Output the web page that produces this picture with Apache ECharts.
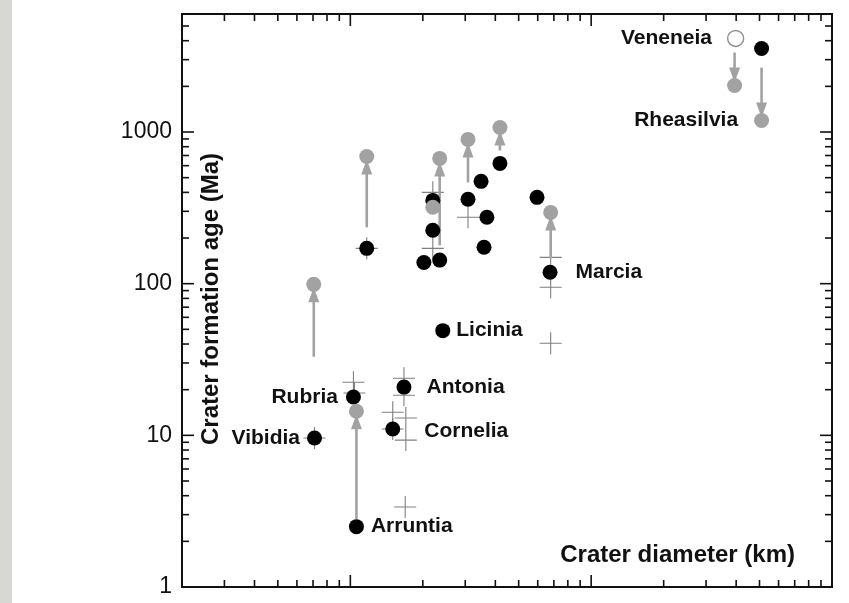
<!DOCTYPE html>
<html>
<head>
<meta charset="utf-8">
<script src="https://cdn.jsdelivr.net/npm/echarts@6/dist/echarts.min.js"></script>
<style>
  html, body { margin: 0; padding: 0; background: #fff; }
  #chart { width: 849px; height: 603px; }
</style>
</head>
<body>
<div id="chart"></div>
<script>
// Crater diameter (km) and formation age (Ma)
const blackDiam = [7.1, 10.3, 10.6, 16.7, 15.0, 24.2, 67.5, 11.7, 20.2, 23.5, 22.0, 22.0, 41.8, 34.9, 30.8, 36.9, 35.9, 59.6, 510];
const blackAge  = [9.6, 17.9, 2.5, 20.8, 11.0, 49, 119, 171, 138, 143, 225, 354, 621, 473, 360, 274, 174, 371, 3550];
const blackName = ['Vibidia', 'Rubria', 'Arruntia', 'Antonia', 'Cornelia', 'Licinia', 'Marcia', '', '', '', '', '', '', '', '', '', '', '', ''];

const grayDiam = [7.05, 11.7, 23.5, 30.8, 41.8, 67.9, 22.0, 10.6, 394, 510];
const grayAge  = [99, 690, 670, 894, 1072, 295, 319, 14.4, 2028, 1192];
const grayName = ['', '', '', '', '', '', '', '', '', 'Rheasilvia'];

const openDiam = [398];
const openAge  = [4140];
const openName = ['Veneneia'];

// age revisions: from -> to
const arrowDiam = [7.05, 11.7, 23.5, 30.8, 41.8, 67.9, 10.6, 394, 510];
const arrowFrom = [33, 235, 179, 465, 756, 147, 2.8, 3340, 2660];
const arrowTo   = [99, 690, 670, 894, 1072, 295, 14.4, 2028, 1192];

// alternative estimates
const crossDiam = [7.1, 10.3, 10.4, 16.7, 16.7, 15.0, 17.0, 17.0, 15.0, 16.9, 67.9, 67.9, 67.9, 30.8, 22.0, 22.0, 11.7];
const crossAge  = [9.6, 22.4, 19.0, 23.8, 18.4, 14.2, 13.0, 9.3, 11.0, 3.37, 149, 94.7, 40.5, 274, 400, 171, 171];

// axis ticks
const yTickLabels = [1, 10, 100, 1000];
const xMajorTicks = [10, 100];
const xMinorTicks = [3, 4, 5, 6, 7, 8, 9, 20, 30, 40, 50, 60, 70, 80, 90, 200, 300, 400, 500, 600, 700, 800, 900];
const yMajorTicks = [10, 100, 1000];
const yMinorTicks = [2, 3, 4, 5, 6, 7, 8, 9, 20, 30, 40, 50, 60, 70, 80, 90, 200, 300, 400, 500, 600, 700, 800, 900, 2000, 3000, 4000, 5000];

const FONT = "'Liberation Sans', Arial, Helvetica, sans-serif";
const INK = '#111111';
const GRAY = '#a2a2a2';

// label placement for named craters
const labelPlace = {
  Vibidia:   { position: 'left',  distance: 7 },
  Rubria:    { position: 'left',  distance: 8 },
  Arruntia:  { position: 'right', distance: 7 },
  Antonia:   { position: 'right', distance: 15 },
  Cornelia:  { position: 'right', distance: 24, offset: [0, 2] },
  Licinia:   { position: 'right', distance: 6 },
  Marcia:    { position: 'right', distance: 18 },
  Rheasilvia:{ position: 'left',  distance: 16 },
  Veneneia:  { position: 'left',  distance: 15 }
};

function points(xs, ys, names) {
  return xs.map((x, i) => {
    const item = { value: [x, ys[i]], name: names ? names[i] : '' };
    const n = names && names[i];
    if (n) {
      const p = labelPlace[n];
      item.label = {
        show: true, formatter: n, position: p.position, distance: p.distance,
        offset: p.offset || [0, 0],
        color: INK, opacity: 1, fontFamily: FONT, fontWeight: 'bold', fontSize: 21
      };
    }
    return item;
  });
}

const chart = echarts.init(document.getElementById('chart'), null, { renderer: 'canvas' });

const option = {
  backgroundColor: '#ffffff',
  animation: false,
  grid: {
    left: 182, top: 14, right: 17, bottom: 16,
    containLabel: false, outerBoundsMode: 'none',
    show: true, borderColor: INK, borderWidth: 2, backgroundColor: 'transparent'
  },
  xAxis: {
    type: 'log', logBase: 10, min: 2, max: 1000,
    axisLine: { show: false }, axisTick: { show: false },
    axisLabel: { show: false }, splitLine: { show: false }
  },
  yAxis: {
    type: 'log', logBase: 10, min: 1, max: 6000,
    axisLine: { show: false }, axisTick: { show: false }, splitLine: { show: false },
    axisLabel: {
      show: true, showMaxLabel: false, margin: 10,
      color: INK, fontFamily: FONT, fontSize: 23,
      formatter: v => (yTickLabels.indexOf(Math.round(v)) >= 0 ? String(Math.round(v)) : '')
    }
  },
  graphic: [
    { type: 'rect', left: 0, top: 0, shape: { width: 12, height: 603 }, style: { fill: '#d7d7d3' }, silent: true },
    {
      type: 'text', x: 211, y: 299, rotation: Math.PI / 2,
      style: { text: 'Crater formation age (Ma)', font: 'bold 24px ' + FONT, fill: INK, align: 'center', verticalAlign: 'middle' }
    },
    {
      type: 'text', x: 795, y: 555,
      style: { text: 'Crater diameter (km)', font: 'bold 24px ' + FONT, fill: INK, align: 'right', verticalAlign: 'middle' }
    }
  ],
  series: [
    // inward ticks on bottom and top
    {
      type: 'custom', clip: false, silent: true, z: 5,
      data: xMajorTicks.map(v => [v, 1, 1]).concat(xMinorTicks.map(v => [v, 1, 0])),
      encode: { x: 0, y: 1 },
      renderItem(params, api) {
        const p = api.coord([api.value(0), api.value(1)]);
        const cs = params.coordSys;
        const len = api.value(2) ? 12 : 7;
        const st = { stroke: INK, lineWidth: 1.6 };
        return { type: 'group', children: [
          { type: 'line', shape: { x1: p[0], y1: cs.y + cs.height, x2: p[0], y2: cs.y + cs.height - len }, style: st },
          { type: 'line', shape: { x1: p[0], y1: cs.y, x2: p[0], y2: cs.y + len }, style: st }
        ] };
      }
    },
    // inward ticks on left and right
    {
      type: 'custom', clip: false, silent: true, z: 5,
      data: yMajorTicks.map(v => [2, v, 1]).concat(yMinorTicks.map(v => [2, v, 0])),
      encode: { x: 0, y: 1 },
      renderItem(params, api) {
        const p = api.coord([api.value(0), api.value(1)]);
        const cs = params.coordSys;
        const len = api.value(2) ? 12 : 7;
        const st = { stroke: INK, lineWidth: 1.6 };
        return { type: 'group', children: [
          { type: 'line', shape: { x1: cs.x, y1: p[1], x2: cs.x + len, y2: p[1] }, style: st },
          { type: 'line', shape: { x1: cs.x + cs.width, y1: p[1], x2: cs.x + cs.width - len, y2: p[1] }, style: st }
        ] };
      }
    },
    // alternative estimates (crosses)
    {
      type: 'scatter', z: 2,
      symbol: 'path://M0,11 L22,11 M11,0 L11,22',
      symbolSize: 22,
      itemStyle: { color: 'transparent', borderColor: '#808080', borderWidth: 1.1, opacity: 1 },
      data: crossDiam.map((x, i) => [x, crossAge[i]])
    },
    // revision arrows
    {
      type: 'custom', z: 3, clip: false,
      data: arrowDiam.map((x, i) => [x, arrowFrom[i], arrowTo[i]]),
      encode: { x: 0, y: [1, 2] },
      renderItem(params, api) {
        const x = api.value(0);
        const p0 = api.coord([x, api.value(1)]);
        const p1 = api.coord([x, api.value(2)]);
        const dir = p1[1] > p0[1] ? 1 : -1;
        const tipY = p1[1] - dir * 3;
        const baseY = tipY - dir * 15;
        return { type: 'group', children: [
          { type: 'line', shape: { x1: p0[0], y1: p0[1], x2: p0[0], y2: baseY + dir * 2 }, style: { stroke: GRAY, lineWidth: 2.6 } },
          { type: 'polygon', shape: { points: [[p1[0], tipY], [p1[0] - 5.5, baseY], [p1[0] + 5.5, baseY]] }, style: { fill: GRAY } }
        ] };
      }
    },
    // measured ages
    {
      type: 'scatter', z: 4, symbol: 'circle', symbolSize: 15,
      itemStyle: { color: '#000000', opacity: 1 },
      data: points(blackDiam, blackAge, blackName)
    },
    // revised ages
    {
      type: 'scatter', z: 6, symbol: 'circle', symbolSize: 15,
      itemStyle: { color: GRAY, opacity: 1 },
      data: points(grayDiam, grayAge, grayName)
    },
    // Veneneia
    {
      type: 'scatter', z: 6, symbol: 'circle', symbolSize: 16,
      itemStyle: { color: '#ffffff', borderColor: '#8f8f8f', borderWidth: 1.4, opacity: 1 },
      data: points(openDiam, openAge, openName)
    }
  ]
};

chart.setOption(option);
</script>
</body>
</html>
